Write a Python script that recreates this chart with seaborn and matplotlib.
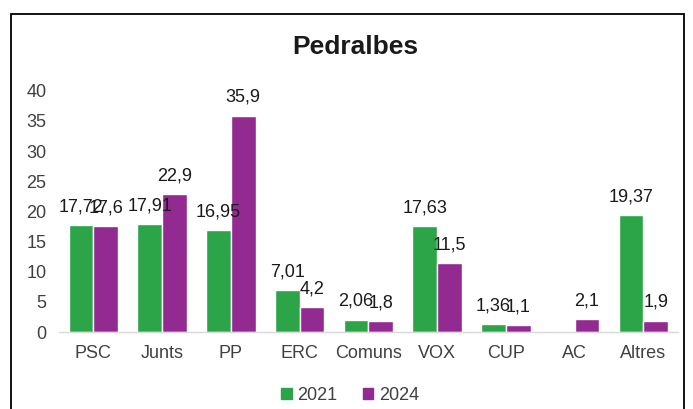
import numpy as np
import pandas as pd
import matplotlib.pyplot as plt
import seaborn as sns
from matplotlib.patches import Rectangle

partits = ['PSC', 'Junts', 'PP', 'ERC', 'Comuns', 'VOX', 'CUP', 'AC', 'Altres']
vots_2021 = [17.72, 17.91, 16.95, 7.01, 2.06, 17.63, 1.36, np.nan, 19.37]
vots_2024 = [17.6, 22.9, 35.9, 4.2, 1.8, 11.5, 1.1, 2.1, 1.9]
anys = ['2021', '2024']
y_ticks = [0, 5, 10, 15, 20, 25, 30, 35, 40]

df = pd.DataFrame({
    'partit': partits * 2,
    'any': [anys[0]] * len(partits) + [anys[1]] * len(partits),
    'vots': vots_2021 + vots_2024,
})

sns.set_style('white')
plt.rcParams['font.family'] = ['Liberation Sans', 'DejaVu Sans']

fig = plt.figure(figsize=(6.93, 4.09), dpi=100)
ax = fig.add_axes([0.085, 0.188, 0.893, 0.59])

colors = {'2021': '#2ba548', '2024': '#922a91'}
sns.barplot(data=df, x='partit', y='vots', hue='any', order=partits,
            hue_order=anys, palette=colors, width=0.72, gap=0,
            saturation=1, ax=ax, legend=False)

# etiquetes de valor
for container, vals in zip(ax.containers, [vots_2021, vots_2024]):
    for bar in container.patches:
        h = bar.get_height()
        if np.isnan(h):
            continue
        i = int(round(bar.get_x() + bar.get_width() / 2))
        v = vals[i]
        ax.annotate(f"{v:g}".replace('.', ','),
                    (bar.get_x() + bar.get_width() / 2, h),
                    xytext=(0, 7), textcoords='offset points',
                    ha='center', va='bottom', fontsize=13, color='#1a1a1a')

ax.set_ylim(0, 40)
ax.set_yticks(y_ticks)
ax.set_xlim(-0.5, len(partits) - 0.5)
ax.set_xlabel('')
ax.set_ylabel('')
ax.tick_params(axis='both', length=0, labelsize=13, labelcolor='#404040')
ax.tick_params(axis='y', pad=9)
ax.tick_params(axis='x', pad=9)
for s in ['top', 'right', 'left']:
    ax.spines[s].set_visible(False)
ax.spines['bottom'].set_color('#d9d9d9')
ax.spines['bottom'].set_linewidth(1)

fig.text(0.512, 0.885, 'Pedralbes', ha='center', va='center',
         fontsize=19, fontweight='bold', color='#1a1a1a')

handles = [plt.Rectangle((0, 0), 1, 1, color=colors[a]) for a in anys]
fig.legend(handles, anys, loc='center', bbox_to_anchor=(0.505, 0.033),
           ncol=2, frameon=False, fontsize=13, handlelength=0.6,
           handleheight=0.6, handletextpad=0.3, columnspacing=1.4,
           labelcolor='#404040')

fig.patches.append(Rectangle((0.016, -0.05), 0.971, 1.016, transform=fig.transFigure,
                             fill=False, edgecolor='black', linewidth=1.3))

fig.savefig('out.png', dpi=100)
